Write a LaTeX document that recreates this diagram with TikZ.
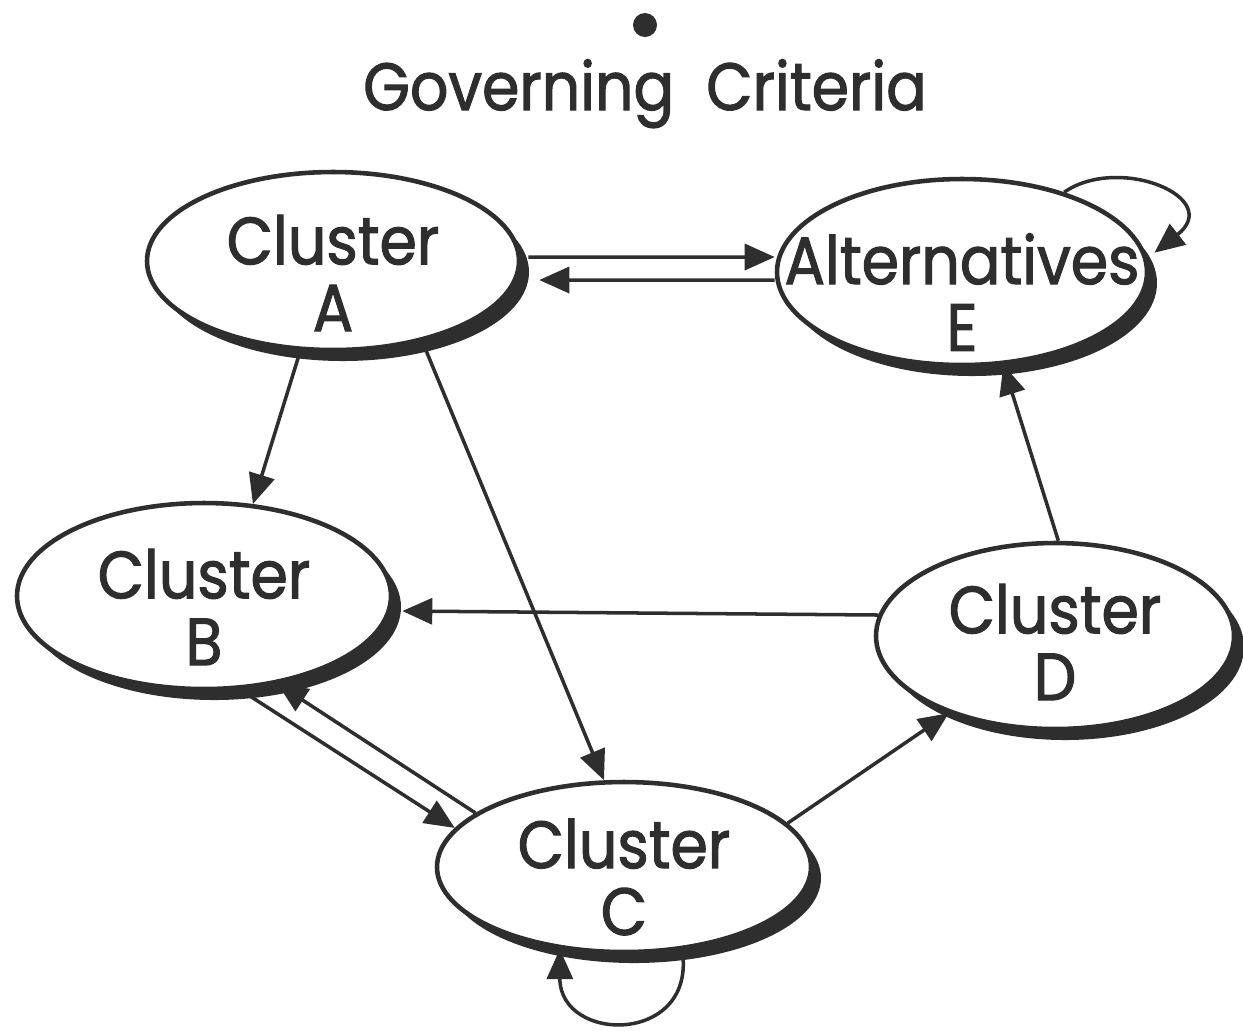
\documentclass[tikz,border=0pt]{standalone}
\usepackage{fontspec}
\setmainfont{Poppins}[FakeStretch=0.9, RawFeature={embolden=1.6}]
\usetikzlibrary{arrows.meta,shapes.geometric,shadows}
\definecolor{ink}{gray}{0.18}
\tikzset{
  cluster/.style={ellipse, draw=ink, line width=1.3pt, fill=white, inner sep=0pt,
    drop shadow={shadow xshift=1.0mm, shadow yshift=-1.1mm, fill=ink, opacity=1}},
  lbl/.style={align=center, text=ink, inner sep=0pt, font=\fontsize{19}{19}\selectfont},
  link/.style={draw=ink, line width=1pt, -{Triangle[length=3mm,width=2.6mm]}}
}

\begin{document}
\begin{tikzpicture}[x=0.1mm,y=-0.1mm] % clusters and their feedback
        \useasboundingbox (0,0) rectangle (1243,1031);
        \node[circle, fill=ink, minimum size=2.4mm, inner sep=0pt] (dot) at (645,25) {};
        \node[lbl, anchor=base] (title) at (645,110) {Governing\ \ Criteria};
        \node[cluster, minimum width=37.2mm, minimum height=17.8mm] (A) at (333,261) {};
        \node[cluster, minimum width=37.4mm, minimum height=18.6mm] (B) at (204,596) {};
        \node[cluster, minimum width=37.4mm, minimum height=17.0mm] (C) at (624,867) {};
        \node[cluster, minimum width=35.8mm, minimum height=18.6mm] (D) at (1055,636) {};
        \node[cluster, minimum width=37.0mm, minimum height=18.6mm] (E) at (962,272) {};
        \node[lbl] (Atext) at ([yshift=-1.2mm]A.center) {Cluster\\A};
        \node[lbl] (Btext) at ([yshift=-1.1mm]B.center) {Cluster\\B};
        \node[lbl] (Ctext) at ([yshift=-1.0mm]C.center) {Cluster\\C};
        \node[lbl] (Dtext) at ([yshift=-0.6mm]D.center) {Cluster\\D};
        \node[lbl] (Etext) at ([yshift=-2.0mm]E.center) {Alternatives\\E};
        \draw[link] ([xshift=0.7mm,yshift=0.4mm]A.east) -- ([yshift=1.5mm]E.west);
        \draw[link] ([yshift=-0.8mm]E.west) -- ([xshift=1.8mm,yshift=-1.9mm]A.east);
        \draw[link] (A.250) -- (B.62);
        \draw[link] (A.-42) -- (C.103);
        \draw[link] ([xshift=0.5mm,yshift=2.1mm]D.west) -- ([xshift=0.9mm,yshift=-1.5mm]B.east);
        \draw[link] (B.-69) -- (C.167);
        \draw[link] (C.160) -- (B.-50);
        \draw[link] (C.15) -- (D.-144);
        \draw[link] (D.88) -- (E.-66);
        \draw[link] (E.38) .. controls +(55,-38) and +(70,-55) .. ([xshift=0.9mm]E.6);
        \draw[link] (C.-55) .. controls +(15,95) and +(0,95) .. (C.-128);
\end{tikzpicture}
\end{document}
